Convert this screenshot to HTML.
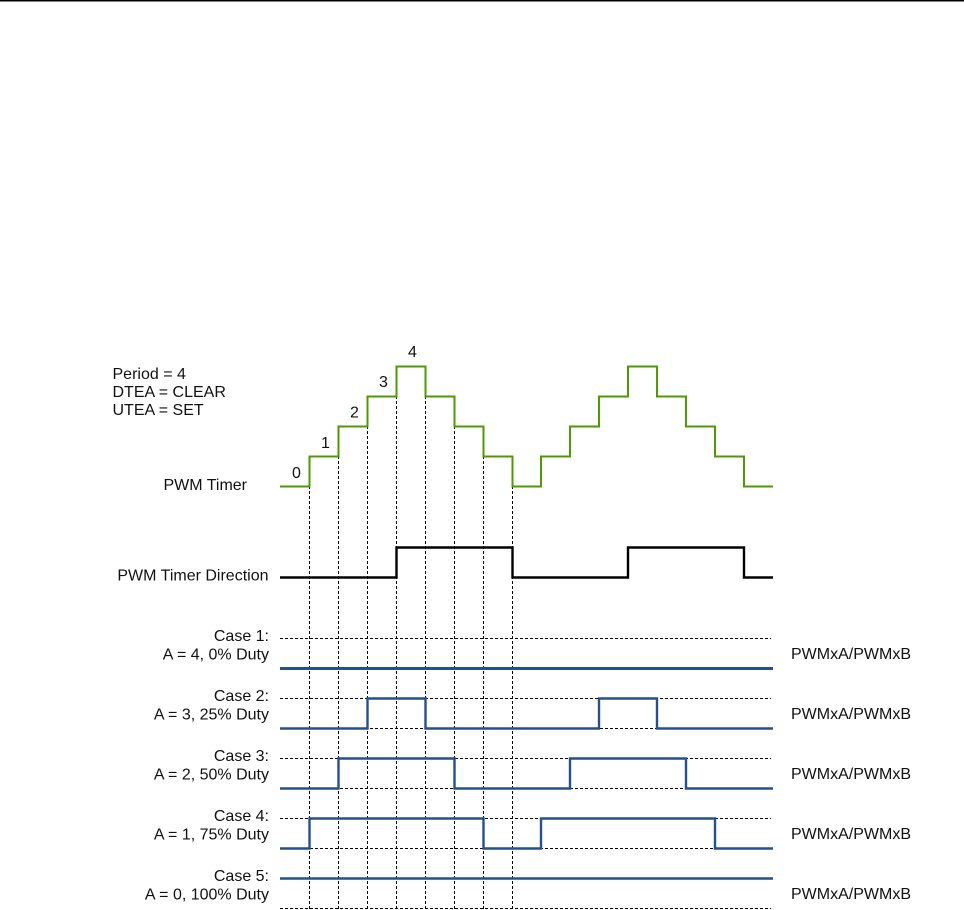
<!DOCTYPE html>
<html><head><meta charset="utf-8"><style>
html,body{margin:0;padding:0;background:#fff;}
svg{display:block;}
text{font-family:"Liberation Sans",Arial,sans-serif;font-size:16px;fill:#111;}
</style></head><body>
<svg width="964" height="910" viewBox="0 0 964 910" xmlns="http://www.w3.org/2000/svg">
<line x1="0" y1="0.75" x2="964" y2="0.75" stroke="#000" stroke-width="1.5"/>
<g stroke="#000" stroke-width="1" stroke-dasharray="3,2" fill="none">
<line x1="309.5" y1="456" x2="309.5" y2="910"/>
<line x1="338.5" y1="426" x2="338.5" y2="910"/>
<line x1="367.5" y1="396" x2="367.5" y2="910"/>
<line x1="396.5" y1="366" x2="396.5" y2="910"/>
<line x1="425.5" y1="366" x2="425.5" y2="910"/>
<line x1="454.5" y1="396" x2="454.5" y2="910"/>
<line x1="483.5" y1="426" x2="483.5" y2="910"/>
<line x1="512.5" y1="456" x2="512.5" y2="910"/>
<line x1="280" y1="638.5" x2="771" y2="638.5"/>
<line x1="280" y1="668.5" x2="771" y2="668.5"/>
<line x1="280" y1="698.5" x2="771" y2="698.5"/>
<line x1="280" y1="728.5" x2="771" y2="728.5"/>
<line x1="280" y1="758.5" x2="771" y2="758.5"/>
<line x1="280" y1="788.5" x2="771" y2="788.5"/>
<line x1="280" y1="818.5" x2="771" y2="818.5"/>
<line x1="280" y1="848.5" x2="771" y2="848.5"/>
<line x1="280" y1="878.5" x2="771" y2="878.5"/>
<line x1="280" y1="908.5" x2="771" y2="908.5"/>
</g>
<path d="M280,486.5 H309.5 V456.5 H338.5 V426.5 H367.5 V396.5 H396.5 V366.5 H425.5 V396.5 H454.5 V426.5 H483.5 V456.5 H512.5 V486.5 H541 V456.5 H570 V426.5 H599 V396.5 H628 V366.5 H657 V396.5 H686 V426.5 H715 V456.5 H744 V486.5 H773" fill="none" stroke="#4d9a06" stroke-width="2"/>
<path d="M280,577.5 H396.5 V547.5 H512.5 V577.5 H628 V547.5 H744 V577.5 H773" fill="none" stroke="#000" stroke-width="2.4"/>
<g fill="none" stroke="#26508c" stroke-width="2.4">
<path d="M280,668.5 H773" stroke-width="3"/>
<path d="M280,728.5 H367.5 V698.5 H425.5 V728.5 H599 V698.5 H657 V728.5 H773"/>
<path d="M280,788.5 H338.5 V758.5 H454.5 V788.5 H570 V758.5 H686 V788.5 H773"/>
<path d="M280,848.5 H309.5 V818.5 H483.5 V848.5 H541 V818.5 H715 V848.5 H773"/>
<path d="M280,878.5 H773"/>
</g>
<text x="112.5" y="379">Period = 4</text>
<text x="112.5" y="397">DTEA = CLEAR</text>
<text x="112.5" y="415">UTEA = SET</text>
<g text-anchor="middle">
<text x="296.5" y="478">0</text>
<text x="325.5" y="448">1</text>
<text x="354.5" y="417.5">2</text>
<text x="383.5" y="387">3</text>
<text x="412.5" y="357">4</text>
</g>
<g text-anchor="end">
<text x="247" y="490">PWM Timer</text>
<text x="268.5" y="580.5">PWM Timer Direction</text>
<text x="269" y="641">Case 1:</text>
<text x="269" y="659.5">A = 4, 0% Duty</text>
<text x="269" y="701">Case 2:</text>
<text x="269" y="719.5">A = 3, 25% Duty</text>
<text x="269" y="761">Case 3:</text>
<text x="269" y="779.5">A = 2, 50% Duty</text>
<text x="269" y="821">Case 4:</text>
<text x="269" y="839.5">A = 1, 75% Duty</text>
<text x="269" y="881">Case 5:</text>
<text x="269" y="899.5">A = 0, 100% Duty</text>
</g>
<text x="791" y="659">PWMxA/PWMxB</text>
<text x="791" y="719">PWMxA/PWMxB</text>
<text x="791" y="779">PWMxA/PWMxB</text>
<text x="791" y="839">PWMxA/PWMxB</text>
<text x="791" y="899">PWMxA/PWMxB</text>
</svg>
</body></html>
